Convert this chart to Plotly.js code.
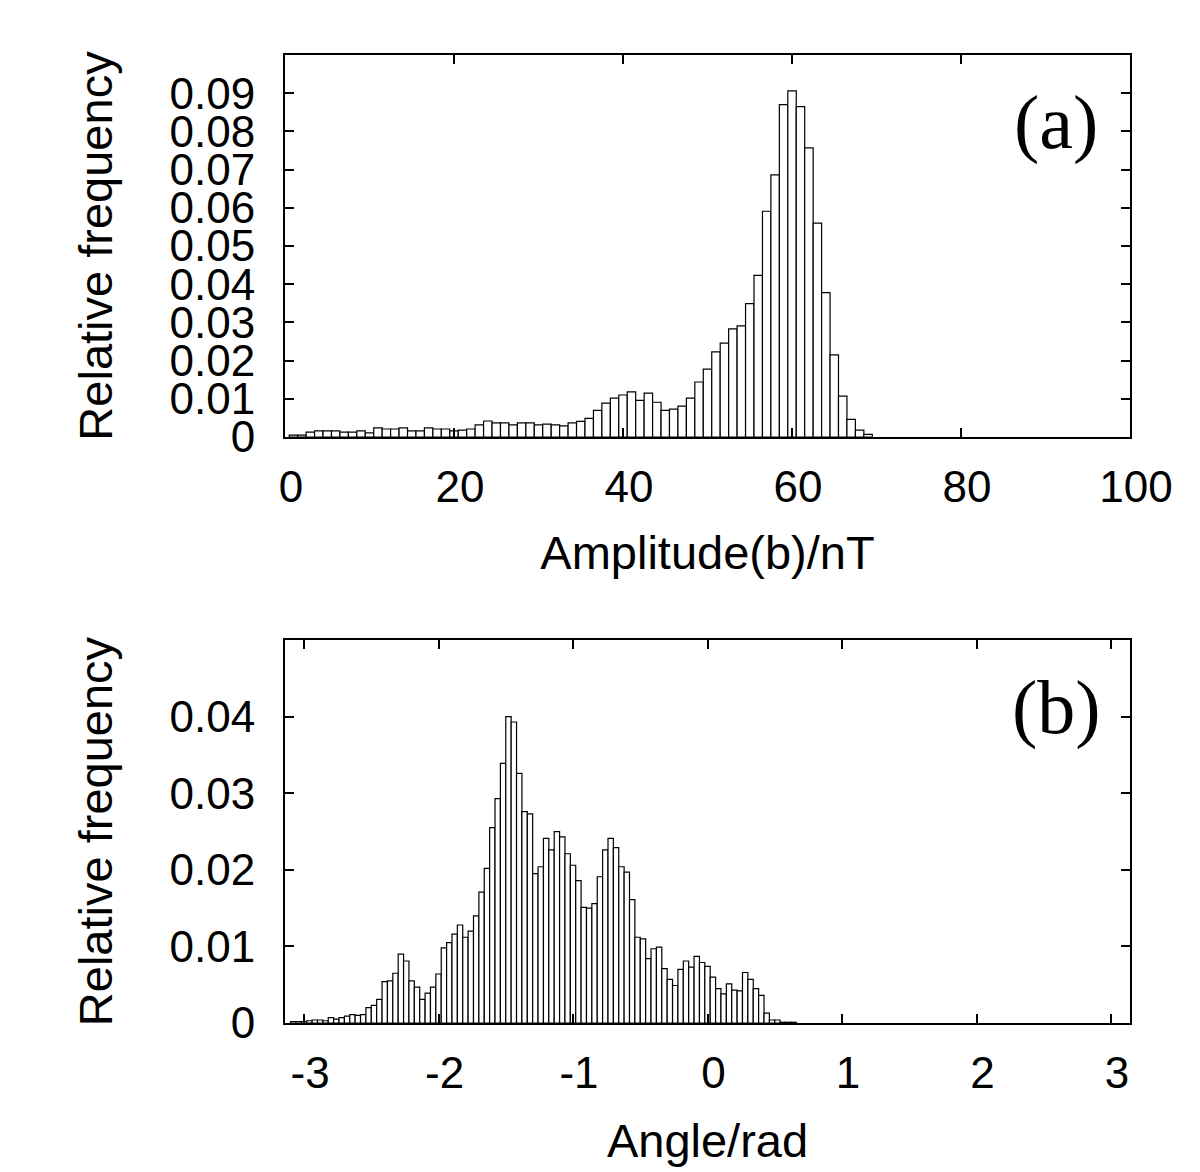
<!DOCTYPE html>
<html>
<head>
<meta charset="utf-8">
<script src="https://cdn.plot.ly/plotly-3.0.1.min.js"></script>
<style>
  html, body { margin: 0; padding: 0; background: #fff; }
  #chart { width: 1200px; height: 1172px; }
</style>
</head>
<body>
<div id="chart"></div>
<script>
// Panel (a): amplitude histogram (bin centres, nT) and relative frequencies
var amplitude = [1,2,3,4,5,6,7,8,9,10,11,12,13,14,15,16,17,18,19,20,
  21,22,23,24,25,26,27,28,29,30,31,32,33,34,35,36,37,38,39,40,
  41,42,43,44,45,46,47,48,49,50,51,52,53,54,55,56,57,58,59,60,
  61,62,63,64,65,66,67,68,69];
var freqAmplitude = [0.0005,0.0005,0.0013,0.0016,0.0016,0.0016,0.0013,0.0013,0.0016,0.0011,
  0.0024,0.0021,0.0021,0.0024,0.0016,0.0016,0.0024,0.0021,0.0021,0.0016,
  0.0018,0.0021,0.0032,0.0042,0.0037,0.0037,0.0032,0.0037,0.0037,0.0032,
  0.0034,0.0032,0.0029,0.0037,0.0041,0.0049,0.0070,0.0089,0.0102,0.0110,
  0.0118,0.0096,0.0115,0.0091,0.0070,0.0073,0.0081,0.0102,0.0144,0.0178,
  0.0223,0.0246,0.0283,0.0291,0.0349,0.0423,0.0591,0.0686,0.0870,0.0906,
  0.0865,0.0757,0.0560,0.0378,0.0215,0.0107,0.0046,0.0018,0.0007];

// Panel (b): angle histogram (bin centres, rad) and relative frequencies
var angle = [-3.08,-3.04,-3.00,-2.96,-2.92,-2.88,-2.84,-2.80,-2.76,-2.72,
  -2.68,-2.64,-2.60,-2.56,-2.52,-2.48,-2.44,-2.40,-2.36,-2.32,
  -2.28,-2.24,-2.20,-2.16,-2.12,-2.08,-2.04,-2.00,-1.96,-1.92,
  -1.88,-1.84,-1.80,-1.76,-1.72,-1.68,-1.64,-1.60,-1.56,-1.52,
  -1.48,-1.44,-1.40,-1.36,-1.32,-1.28,-1.24,-1.20,-1.16,-1.12,
  -1.08,-1.04,-1.00,-0.96,-0.92,-0.88,-0.84,-0.80,-0.76,-0.72,
  -0.68,-0.64,-0.60,-0.56,-0.52,-0.48,-0.44,-0.40,-0.36,-0.32,
  -0.28,-0.24,-0.20,-0.16,-0.12,-0.08,-0.04,0.00,0.04,0.08,
  0.12,0.16,0.20,0.24,0.28,0.32,0.36,0.40,0.44,0.48,
  0.52,0.56,0.60,0.64];
var freqAngle = [0.0002,0.0002,0.0002,0.0003,0.0004,0.0004,0.0003,0.0007,0.0005,0.0007,
  0.0009,0.0011,0.0010,0.0011,0.0020,0.0023,0.0031,0.0054,0.0055,0.0065,
  0.0090,0.0081,0.0055,0.0047,0.0031,0.0039,0.0047,0.0064,0.0098,0.0105,
  0.0116,0.0128,0.0112,0.0120,0.0140,0.0171,0.0202,0.0255,0.0293,0.0339,
  0.0400,0.0393,0.0326,0.0276,0.0273,0.0195,0.0204,0.0241,0.0226,0.0250,
  0.0243,0.0221,0.0206,0.0186,0.0151,0.0150,0.0156,0.0191,0.0226,0.0241,
  0.0229,0.0204,0.0197,0.0161,0.0112,0.0110,0.0084,0.0097,0.0099,0.0071,
  0.0057,0.0049,0.0070,0.0081,0.0073,0.0087,0.0079,0.0074,0.0060,0.0045,
  0.0038,0.0051,0.0043,0.0042,0.0066,0.0057,0.0045,0.0036,0.0013,0.0004,
  0.0004,0.0001,0.0001,0.0001];

// Tick labels
var ampTicks = [0,20,40,60,80,100];
var ampTickText = ['0','20','40','60','80','100'];
var freqTicksA = [0,0.01,0.02,0.03,0.04,0.05,0.06,0.07,0.08,0.09];
var freqTickTextA = ['0','0.01','0.02','0.03','0.04','0.05','0.06','0.07','0.08','0.09'];
var angTicks = [-3,-2,-1,0,1,2,3];
var angTickText = ['-3','-2','-1','0','1','2','3'];
var freqTicksB = [0,0.01,0.02,0.03,0.04];
var freqTickTextB = ['0','0.01','0.02','0.03','0.04'];

var barStyle = { color: '#ffffff', line: { color: '#000000', width: 1.2 } };

var traces = [
  { type: 'bar', x: amplitude, y: freqAmplitude, width: 1, marker: barStyle,
    xaxis: 'x', yaxis: 'y', hoverinfo: 'x+y' },
  { type: 'bar', x: angle, y: freqAngle, width: 0.04, marker: barStyle,
    xaxis: 'x2', yaxis: 'y2', hoverinfo: 'x+y' }
];

var tickFont = { family: 'Liberation Sans, Arial, sans-serif', size: 44, color: '#000' };
var titleFont = { family: 'Liberation Sans, Arial, sans-serif', size: 47, color: '#000' };

function axisBase() {
  return {
    showline: true, linecolor: '#000', linewidth: 2, mirror: 'ticks',
    ticks: 'inside', ticklen: 9, tickwidth: 2, tickcolor: '#000',
    showgrid: false, zeroline: false, tickfont: tickFont,
    tickmode: 'array', fixedrange: true
  };
}

var xa = Object.assign(axisBase(), {
  domain: [0.2375, 0.9417], anchor: 'y', range: [0, 100],
  tickvals: ampTicks, ticktext: ampTickText, ticklabelstandoff: 10, ticklabelshift: 6,
  title: { text: 'Amplitude(b)/nT', font: titleFont, standoff: 26 }
});
var ya = Object.assign(axisBase(), {
  domain: [0.6271, 0.9531], anchor: 'x', range: [0, 0.1],
  tickvals: freqTicksA, ticktext: freqTickTextA, ticklabelstandoff: 19,
  title: { text: 'Relative frequency', font: titleFont, standoff: 42 }
});
var xb = Object.assign(axisBase(), {
  domain: [0.2375, 0.9417], anchor: 'y2', range: [-Math.PI, Math.PI],
  tickvals: angTicks, ticktext: angTickText, ticklabelstandoff: 10, ticklabelshift: 6,
  title: { text: 'Angle/rad', font: titleFont, standoff: 28 }
});
var yb = Object.assign(axisBase(), {
  domain: [0.1271, 0.4539], anchor: 'x2', range: [0, 0.05],
  tickvals: freqTicksB, ticktext: freqTickTextB, ticklabelstandoff: 19,
  title: { text: 'Relative frequency', font: titleFont, standoff: 42 }
});

var layout = {
  width: 1200, height: 1172,
  margin: { l: 0, r: 0, t: 0, b: 0 },
  paper_bgcolor: '#fff', plot_bgcolor: '#fff',
  showlegend: false, bargap: 0,
  xaxis: xa, yaxis: ya, xaxis2: xb, yaxis2: yb,
  annotations: [
    { text: '(a)', xref: 'paper', yref: 'paper', x: 1056 / 1200, y: 1 - 122 / 1172,
      xanchor: 'center', yanchor: 'middle', showarrow: false,
      font: { family: 'Liberation Serif, Times New Roman, serif', size: 76, color: '#000' } },
    { text: '(b)', xref: 'paper', yref: 'paper', x: 1056 / 1200, y: 1 - 707 / 1172,
      xanchor: 'center', yanchor: 'middle', showarrow: false,
      font: { family: 'Liberation Serif, Times New Roman, serif', size: 76, color: '#000' } }
  ]
};

Plotly.newPlot('chart', traces, layout, { displayModeBar: false, staticPlot: true });
</script>
</body>
</html>
